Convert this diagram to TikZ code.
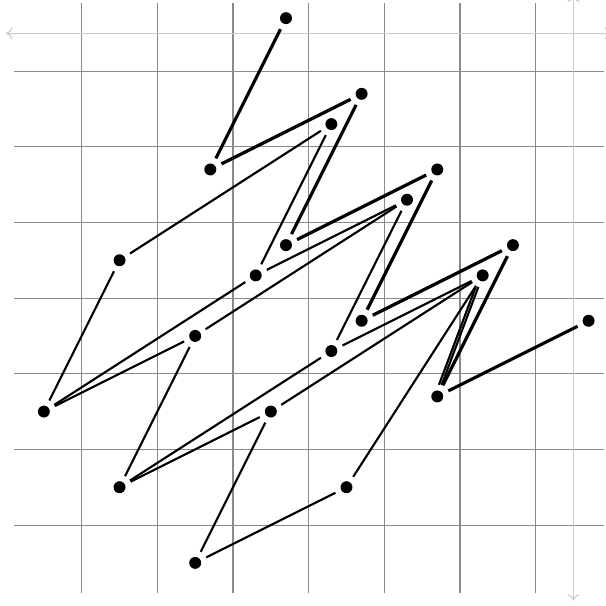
\documentclass[tikz,border=0pt]{standalone}
\usetikzlibrary{arrows.meta}
\definecolor{GridGray}{HTML}{8A8A8A}
\definecolor{AxisGray}{HTML}{CACACA}

\begin{document}
\begin{tikzpicture}[
  dot/.style={circle, fill=black, inner sep=0pt, minimum size=4.5pt, outer sep=2.4pt},
  gridline/.style={draw=GridGray, line width=0.4pt},
  axisline/.style={draw=AxisGray, line width=0.4pt, {To[length=2.4pt,width=4.6pt]}-{To[length=2.4pt,width=4.6pt]}},
  thinlink/.style={line width=0.8pt},
  thicklink/.style={line width=1.2pt}
]
\useasboundingbox (-0.08,-0.07) rectangle (7.93,7.94);
\draw[gridline] (0.1,0.1) grid (7.9,7.9);
\draw[axisline] (0,7.5) -- (8,7.5);
\draw[axisline] (7.5,0) -- (7.5,8);

\node[dot] (t1) at (3.7,7.7) {};
\node[dot] (t2) at (2.7,5.7) {};
\node[dot] (t3) at (4.7,6.7) {};
\node[dot] (t4) at (3.7,4.7) {};
\node[dot] (t5) at (5.7,5.7) {};
\node[dot] (t6) at (4.7,3.7) {};
\node[dot] (t7) at (6.7,4.7) {};
\node[dot] (t8) at (5.7,2.7) {};
\node[dot] (t9) at (7.7,3.7) {};

\node[dot] (m1) at (4.3,6.3) {};
\node[dot] (m2) at (3.3,4.3) {};
\node[dot] (m3) at (5.3,5.3) {};
\node[dot] (m4) at (4.3,3.3) {};
\node[dot] (m5) at (6.3,4.3) {};

\node[dot] (b1) at (1.5,4.5) {};
\node[dot] (b2) at (0.5,2.5) {};
\node[dot] (b3) at (2.5,3.5) {};
\node[dot] (b4) at (1.5,1.5) {};
\node[dot] (b5) at (3.5,2.5) {};
\node[dot] (b6) at (2.5,0.5) {};
\node[dot] (b7) at (4.5,1.5) {};

\draw[thicklink] (t1) -- (t2) -- (t3) -- (t4) -- (t5) -- (t6) -- (t7) -- (t8) -- (t9);
\draw[thinlink] (m1) -- (m2) -- (m3) -- (m4) -- (m5) -- (t8);
\draw[thinlink, transform canvas={xshift=-1pt}] (m5) -- (t8);
\draw[thinlink] (b1) -- (b2) -- (b3) -- (b4) -- (b5) -- (b6) -- (b7);
\foreach \a/\b in {b1/m1, b2/m2, b3/m3, b4/m4, b5/m5, b7/m5}
  \draw[thinlink] (\a) -- (\b);
\end{tikzpicture}
\end{document}
